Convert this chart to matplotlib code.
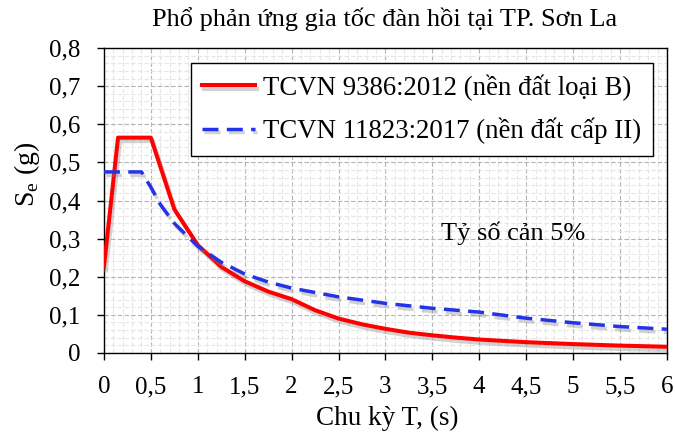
import matplotlib

matplotlib.use("Agg")
import matplotlib.pyplot as plt
import matplotlib.patheffects as pe
from matplotlib.ticker import FuncFormatter, MultipleLocator

# Red spectrum: TCVN 9386:2012, ground type B
period_red = [0, 0.15, 0.5, 0.75, 1.0, 1.25, 1.5, 1.75, 2.0, 2.25, 2.5, 2.75,
              3.0, 3.25, 3.5, 3.75, 4.0, 4.5, 5.0, 5.5, 6.0]
se_red = [0.226, 0.565, 0.565, 0.377, 0.283, 0.226, 0.188, 0.161, 0.141, 0.112,
          0.090, 0.075, 0.063, 0.053, 0.046, 0.040, 0.035, 0.028, 0.023, 0.019,
          0.016]

# Blue spectrum: TCVN 11823:2017, ground class II
period_blue = [0, 0.4, 0.5, 0.6, 0.75, 1.0, 1.25, 1.5, 1.75, 2.0, 2.5, 3.0,
               3.5, 4.0, 4.5, 5.0, 5.5, 6.0]
se_blue = [0.475, 0.475, 0.435, 0.39, 0.34, 0.28, 0.238, 0.207, 0.186, 0.17,
           0.147, 0.13, 0.117, 0.107, 0.091, 0.079, 0.069, 0.062]

label_red = "TCVN 9386:2012 (nền đất loại B)"
label_blue = "TCVN 11823:2017 (nền đất cấp II)"
title = "Phổ phản ứng gia tốc đàn hồi tại TP. Sơn La"
note = "Tỷ số cản 5%"

plt.rcParams["font.family"] = ["Liberation Serif", "DejaVu Serif"]
plt.rcParams["mathtext.fontset"] = "custom"
plt.rcParams["mathtext.rm"] = "Liberation Serif"

W, H = 675, 434
fig = plt.figure(figsize=(W / 100, H / 100), dpi=100)
ax = fig.add_axes([0.154, 0.187, 0.834, 0.702])

shadow = [pe.SimpleLineShadow(offset=(1.5, -2.5), shadow_color="gray", alpha=0.35),
          pe.Normal()]

ax.plot(period_red, se_red, color="#ff0000", lw=2.9, label=label_red,
        path_effects=shadow, zorder=3)
ax.plot(period_blue, se_blue, color="#2233e8", lw=2.5, dashes=(4.6, 2.4),
        label=label_blue, path_effects=shadow, zorder=3)

ax.set_xlim(0, 6)
ax.set_ylim(0, 0.8)
ax.xaxis.set_major_locator(MultipleLocator(0.5))
ax.xaxis.set_minor_locator(MultipleLocator(0.1))
ax.yaxis.set_major_locator(MultipleLocator(0.1))
ax.yaxis.set_minor_locator(MultipleLocator(0.02))

comma = FuncFormatter(lambda v, pos: f"{v:g}".replace(".", ","))
ax.xaxis.set_major_formatter(comma)
ax.yaxis.set_major_formatter(comma)

ax.grid(which="major", color="#b4b4b4", ls=(0, (4, 2)), lw=0.8)
ax.grid(which="minor", color="#e6e6e6", ls=(0, (4, 2)), lw=0.8)
ax.tick_params(which="major", direction="out", length=5, width=1, labelsize=18,
               pad=12)
ax.tick_params(which="minor", length=0)
for sp in ax.spines.values():
    sp.set_linewidth(1)

# title and axis labels placed in pixels, like the reference
fig.text(385 / W, 1 - 26 / H, title, fontsize=19, ha="center", va="baseline")
fig.text(387 / W, 1 - 425 / H, "Chu kỳ T, (s)", fontsize=19.5, ha="center",
         va="baseline")
fig.text(26.5 / W, 1 - 174 / H, "S$_\\mathrm{e}$ (g)", fontsize=20,
         rotation=90, ha="center", va="center")

ax.text(4.36, 0.315, note, fontsize=19, ha="center", va="center")

leg = ax.legend(loc="upper right", bbox_to_anchor=(0.975, 0.951), fontsize=19.3,
                fancybox=False, framealpha=1, edgecolor="black",
                handlelength=2.0, handletextpad=0.3, borderpad=0.42,
                labelspacing=0.64, borderaxespad=0)
leg.get_frame().set_linewidth(1)

fig.savefig("out.png", dpi=100)
